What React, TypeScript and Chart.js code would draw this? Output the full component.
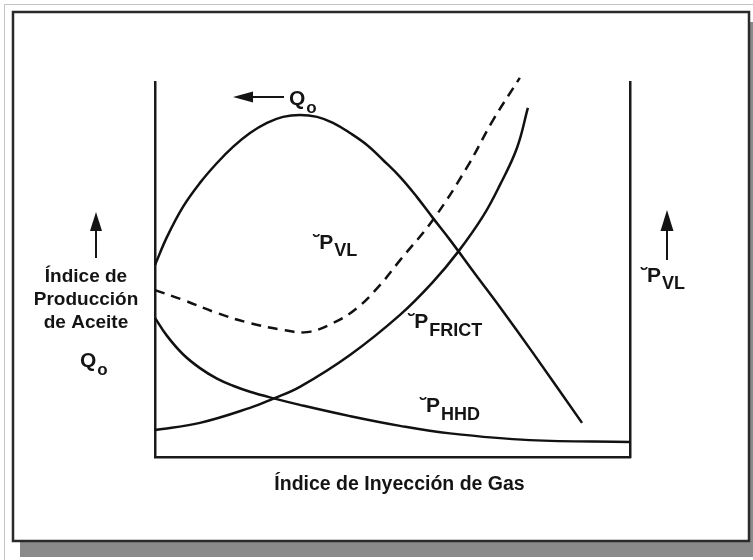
import React, { useEffect, useRef } from "react";
import { Chart, registerables } from "chart.js";

Chart.register(...registerables);

// Horizontal axis: gas injection rate (relative units 0-100)
// Vertical axis: relative magnitude (0-100)
const qoX = [0, 2.53, 5.89, 9.47, 13.05, 16.42, 20.0, 23.58, 26.95, 30.53, 34.11, 37.47, 41.05, 44.63, 48.0, 51.58, 55.16, 58.53, 62.1, 67.4, 72.6, 79.6, 89.9];
const qoY = [51.2, 58.7, 66.7, 73.1, 78.4, 82.7, 86.4, 89.1, 90.7, 91.2, 90.7, 89.1, 86.4, 83.2, 79.2, 74.7, 69.3, 63.7, 57.9, 48.8, 40.0, 27.7, 9.1];

const pvlX = [0, 5.89, 13.05, 20.0, 26.95, 32.0, 37.47, 42.5, 47.4, 51.6, 58.5, 65.7, 71.2, 76.8];
const pvlY = [44.5, 41.9, 38.4, 35.7, 33.9, 33.3, 35.7, 39.7, 45.9, 52.5, 63.2, 77.3, 89.9, 101.1];

const frictX = [0, 9.47, 20.0, 24.8, 30.5, 41.05, 51.58, 58.53, 63.8, 69.1, 72.6, 76.2, 78.5];
const frictY = [7.2, 9.1, 13.1, 15.5, 18.7, 27.2, 37.9, 46.7, 54.7, 64.3, 72.5, 82.4, 93.1];

const hhdX = [0, 2.53, 5.89, 9.47, 13.05, 16.42, 20.0, 24.8, 30.5, 41.05, 51.58, 62.1, 78.9, 100];
const hhdY = [37.1, 32.3, 27.4, 23.7, 20.9, 19.0, 17.4, 15.7, 13.9, 10.9, 8.3, 6.3, 4.5, 4.0];

const xTitle = "Índice de Inyección de Gas";
const leftTitle = ["Índice de", "Producción", "de Aceite"];
const mark = "˘";

const toPts = (xs: number[], ys: number[]) => xs.map((x, i) => ({ x, y: ys[i] }));

const FONT = "'Liberation Sans', Arial, Helvetica, sans-serif";
const INK = "#141414";

function drawSubLabel(
  ctx: CanvasRenderingContext2D,
  x: number,
  base: number,
  prefix: string,
  main: string,
  sub: string,
  mainSize: number,
  subSize: number,
  drop: number
) {
  ctx.save();
  ctx.fillStyle = INK;
  ctx.textAlign = "left";
  ctx.textBaseline = "alphabetic";
  ctx.font = `bold ${mainSize}px ${FONT}`;
  let cx = x;
  if (prefix) {
    ctx.fillText(prefix, cx, base);
    cx += ctx.measureText(prefix).width - 1;
  }
  ctx.fillText(main, cx, base);
  cx += ctx.measureText(main).width + 1;
  ctx.font = `bold ${subSize}px ${FONT}`;
  ctx.fillText(sub, cx, base + drop);
  ctx.restore();
}

function arrow(
  ctx: CanvasRenderingContext2D,
  x1: number,
  y1: number,
  x2: number,
  y2: number,
  headLen: number,
  headHalf: number
) {
  const ang = Math.atan2(y2 - y1, x2 - x1);
  const bx = x2 - headLen * Math.cos(ang);
  const by = y2 - headLen * Math.sin(ang);
  ctx.save();
  ctx.strokeStyle = INK;
  ctx.fillStyle = INK;
  ctx.lineWidth = 2;
  ctx.beginPath();
  ctx.moveTo(x1, y1);
  ctx.lineTo(bx, by);
  ctx.stroke();
  ctx.beginPath();
  ctx.moveTo(x2, y2);
  ctx.lineTo(bx + headHalf * Math.sin(ang), by - headHalf * Math.cos(ang));
  ctx.lineTo(bx - headHalf * Math.sin(ang), by + headHalf * Math.cos(ang));
  ctx.closePath();
  ctx.fill();
  ctx.restore();
}

const framePlugin = {
  id: "frame",
  beforeDraw(chart: any) {
    const ctx = chart.ctx as CanvasRenderingContext2D;
    const W = chart.width;
    const H = chart.height;
    ctx.save();
    ctx.fillStyle = "#ffffff";
    ctx.fillRect(0, 0, W, H);
    // thin outer line
    ctx.strokeStyle = "#c4c4c4";
    ctx.lineWidth = 1;
    ctx.strokeRect(4.5, 4.5, W + 10, H + 10);
    // drop shadow
    ctx.fillStyle = "#8a8a8a";
    ctx.fillRect(20, 542, W - 20, 15);
    ctx.fillRect(749, 22, W - 749, 535);
    // frame
    ctx.fillStyle = "#ffffff";
    ctx.fillRect(13, 12, 736, 529);
    ctx.strokeStyle = "#2a2a2a";
    ctx.lineWidth = 2.5;
    ctx.strokeRect(13, 12, 736, 529);
    ctx.restore();
  },
  afterDraw(chart: any) {
    const ctx = chart.ctx as CanvasRenderingContext2D;
    const xs = chart.scales.x;
    const ys = chart.scales.y;
    const px = (v: number) => xs.getPixelForValue(v);
    const py = (v: number) => ys.getPixelForValue(v);
    const area = chart.chartArea;

    // x-axis title
    ctx.save();
    ctx.fillStyle = INK;
    ctx.font = `bold 19.5px ${FONT}`;
    ctx.textAlign = "center";
    ctx.textBaseline = "alphabetic";
    ctx.fillText(xTitle, (area.left + area.right) / 2 + 7, area.bottom + 33);
    ctx.restore();

    // left title
    ctx.save();
    ctx.fillStyle = INK;
    ctx.font = `bold 19px ${FONT}`;
    ctx.textAlign = "center";
    ctx.textBaseline = "alphabetic";
    leftTitle.forEach((t, i) => ctx.fillText(t, 86, 282 + i * 23));
    ctx.restore();
    arrow(ctx, 96, 258, 96, 212, 19, 6);
    drawSubLabel(ctx, 80, 367, "", "Q", "o", 21, 17, 8);

    // right title
    arrow(ctx, 667, 260, 667, 210, 21, 6.5);
    drawSubLabel(ctx, 641, 282, mark, "P", "VL", 21, 18, 7);

    // top Qo label with arrow
    arrow(ctx, 284, 97, 233, 97, 20, 5.5);
    drawSubLabel(ctx, 289, 105, "", "Q", "o", 21, 17, 8);

    // in-plot labels (anchored to data coordinates)
    drawSubLabel(ctx, px(33.3), py(55.5), mark, "P", "VL", 21, 18, 7);
    drawSubLabel(ctx, px(53.3), py(34.5), mark, "P", "FRICT", 21, 18, 8);
    drawSubLabel(ctx, px(55.8), py(12.0), mark, "P", "HHD", 21, 18, 8);
  },
};

export default function App() {
  const ref = useRef<HTMLCanvasElement | null>(null);

  useEffect(() => {
    if (!ref.current) return;
    const lineBase = {
      borderColor: "#111111",
      borderWidth: 2.5,
      pointRadius: 0,
      fill: false,
      tension: 0.4,
      clip: false as any,
    };
    const hiddenAxis = {
      type: "linear" as const,
      min: 0,
      max: 100,
      ticks: { display: false },
      grid: { display: true, color: "rgba(0,0,0,0)", drawTicks: false, drawOnChartArea: false },
      border: { display: true, color: "#1a1a1a", width: 2.5 },
    };
    const chart = new Chart(ref.current, {
      type: "line",
      data: {
        datasets: [
          { ...lineBase, label: "Qo", data: toPts(qoX, qoY) },
          { ...lineBase, label: "PVL", data: toPts(pvlX, pvlY), borderDash: [10, 7] },
          { ...lineBase, label: "PFRICT", data: toPts(frictX, frictY) },
          { ...lineBase, label: "PHHD", data: toPts(hhdX, hhdY) },
        ],
      },
      options: {
        animation: false,
        responsive: false,
        devicePixelRatio: 1,
        parsing: false as any,
        layout: { padding: { left: 155, right: 123, top: 82, bottom: 103 } },
        plugins: { legend: { display: false }, tooltip: { enabled: false }, title: { display: false } },
        scales: {
          x: {
            ...hiddenAxis,
            position: "bottom",
            afterFit: (s: any) => {
              s.height = 0;
            },
          },
          y: {
            ...hiddenAxis,
            position: "left",
            afterFit: (s: any) => {
              s.width = 0;
            },
          },
          y2: {
            ...hiddenAxis,
            position: "right",
            afterFit: (s: any) => {
              s.width = 0;
            },
          },
        },
      } as any,
      plugins: [framePlugin],
    });
    return () => chart.destroy();
  }, []);

  return (
    <div style={{ position: "absolute", left: 0, top: 0, width: 753, height: 560 }}>
      <canvas ref={ref} width={753} height={560} style={{ display: "block", width: 753, height: 560 }} />
    </div>
  );
}
